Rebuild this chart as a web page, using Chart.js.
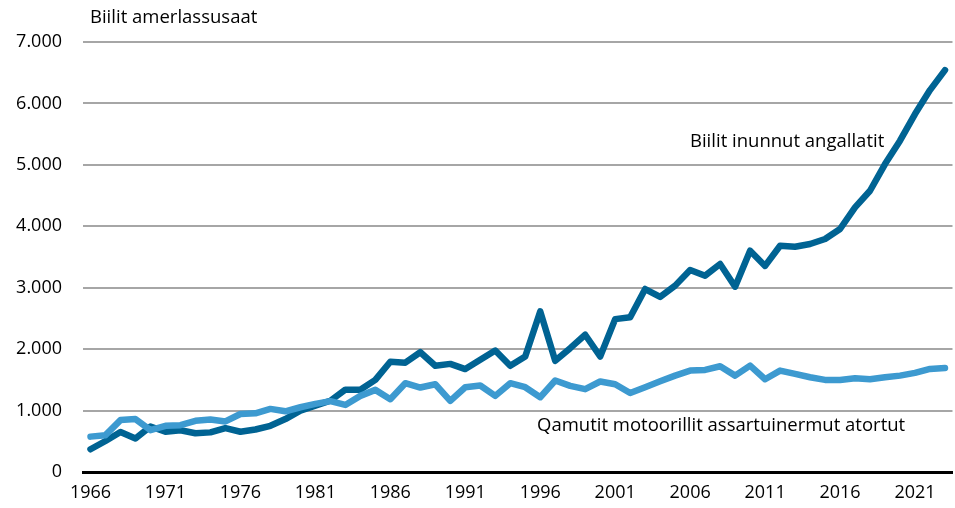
<!DOCTYPE html>
<html>
<head>
<meta charset="utf-8">
<script src="https://cdn.jsdelivr.net/npm/chart.js@4/dist/chart.umd.min.js"></script>
<style>
  html, body { margin: 0; padding: 0; background: #fff; }
  #wrap { width: 955px; height: 508px; position: relative; }
</style>
</head>
<body>
<div id="wrap"><canvas id="chart"></canvas></div>
<script>
// years 1966 - 2023
const years = [];
for (let y = 1966; y <= 2023; y++) years.push(String(y));

// Biilit inunnut angallatit
const passengerCars = [
  370, 505, 650, 545, 740, 655, 680, 630, 645, 714,
  655, 692, 752, 862, 1000, 1080, 1160, 1340, 1340, 1500,
  1795, 1780, 1950, 1730, 1760, 1675, 1826, 1978, 1728, 1880,
  2614, 1810, 2016, 2234, 1880, 2489, 2520, 2979, 2850, 3034,
  3289, 3196, 3386, 3017, 3603, 3355, 3684, 3668, 3711, 3793,
  3956, 4308, 4579, 5013, 5393, 5827, 6217, 6542
];

// Qamutit motoorillit assartuinermut atortut
const goodsVehicles = [
  576, 600, 845, 862, 680, 752, 763, 834, 856, 823,
  944, 955, 1027, 988, 1054, 1109, 1153, 1092, 1239, 1337,
  1185, 1446, 1375, 1429, 1158, 1380, 1408, 1239, 1446, 1380,
  1217, 1489, 1402, 1348, 1473, 1429, 1285, 1380, 1477, 1569,
  1651, 1662, 1721, 1569, 1732, 1510, 1651, 1597, 1542, 1499,
  1499, 1526, 1510, 1542, 1569, 1613, 1678, 1694
];

const yTicks = [0, 1000, 2000, 3000, 4000, 5000, 6000, 7000];

const FONT = "'Open Sans', 'Noto Sans', sans-serif";

// free text labels on the chart
const annotations = {
  id: 'annotations',
  afterDraw(chart) {
    const ctx = chart.ctx;
    ctx.save();
    ctx.fillStyle = '#000';
    ctx.font = '18.5px ' + FONT;
    ctx.textBaseline = 'middle';
    ctx.textAlign = 'left';
    ctx.fillText('Biilit amerlassusaat', 90, 18);
    ctx.fillText('Biilit inunnut angallatit', 690, 142);
    ctx.fillText('Qamutit motoorillit assartuinermut atortut', 537, 426);
    ctx.restore();
  }
};

new Chart(document.getElementById('chart'), {
  type: 'line',
  data: {
    labels: years,
    datasets: [
      {
        label: 'Qamutit motoorillit assartuinermut atortut',
        data: goodsVehicles,
        borderColor: '#3d9ad0',
        borderWidth: 6.5,
        pointRadius: 0,
        tension: 0,
        borderJoinStyle: 'round',
        borderCapStyle: 'round'
      },
      {
        label: 'Biilit inunnut angallatit',
        data: passengerCars,
        borderColor: '#006393',
        borderWidth: 6.5,
        pointRadius: 0,
        tension: 0,
        borderJoinStyle: 'round',
        borderCapStyle: 'round'
      }
    ]
  },
  options: {
    responsive: true,
    maintainAspectRatio: false,
    animation: false,
    layout: { padding: { left: 0, right: 2, top: 42, bottom: 0 } },
    plugins: {
      legend: { display: false },
      tooltip: { enabled: false }
    },
    scales: {
      x: {
        offset: true,
        afterFit: (s) => { s.height = 36; },
        grid: { display: false, drawTicks: false },
        border: { display: true, color: '#000', width: 3 },
        ticks: {
          autoSkip: false,
          maxRotation: 0,
          padding: 10,
          color: '#000',
          font: { family: FONT, size: 18 },
          callback: (v, i) => (i % 5 === 0 ? years[i] : '')
        }
      },
      y: {
        min: 0,
        max: 7000,
        afterBuildTicks: (s) => { s.ticks = yTicks.map(v => ({ value: v })); },
        afterFit: (s) => { s.width = 83; },
        grid: { color: '#a6a6a6', lineWidth: 2, drawTicks: false },
        border: { display: false },
        ticks: {
          padding: 21,
          color: '#000',
          font: { family: FONT, size: 18 },
          callback: (v) => v.toLocaleString('de-DE')
        }
      }
    }
  },
  plugins: [annotations]
});
</script>
</body>
</html>
